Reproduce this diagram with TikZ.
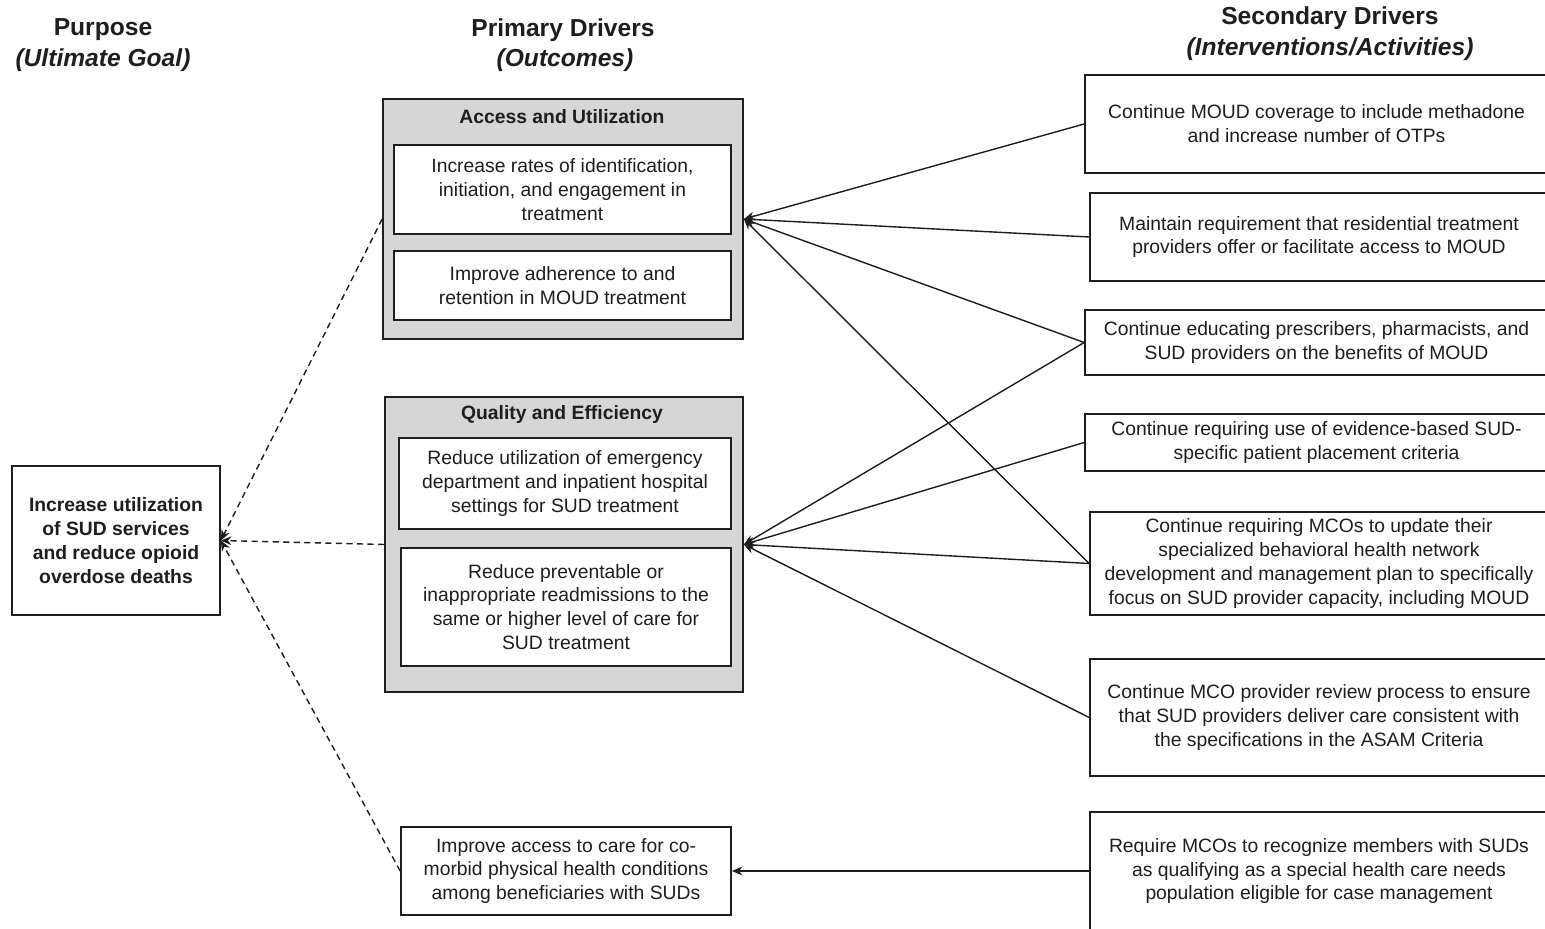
\documentclass[tikz,border=0pt]{standalone}
\usepackage{fontspec}
\setmainfont{Liberation Sans}
\usetikzlibrary{arrows.meta}
\definecolor{boxgray}{RGB}{214,214,214}
\definecolor{ink}{RGB}{30,30,30}
\begin{document}
\begin{tikzpicture}[x=0.02cm,y=-0.02cm,
 every node/.style={font=\fontsize{11}{13.6}\selectfont, text=ink, align=center, inner sep=0pt},
 box/.style={draw=ink, line width=1pt, fill=white},
 outerbox/.style={draw=ink, line width=1pt, fill=boxgray},
 headtitle/.style={font=\fontsize{14}{17}\selectfont\bfseries},
 link/.style={draw=ink, line width=0.8pt, -{Stealth[length=6pt,width=5pt]}},
 dlink/.style={link, dash pattern=on 3.5pt off 2.5pt}]
\useasboundingbox (0,0) rectangle (1545,929);

% column headings
\node[headtitle] (h1a) at (103,30) {Purpose};
\node[headtitle] (h1b) at (103,60) {\itshape (Ultimate Goal)};
\node[headtitle] (h2a) at (563,30) {Primary Drivers};
\node[headtitle] (h2b) at (565,60) {\itshape (Outcomes)};
\node[headtitle] (h3a) at (1330,18) {Secondary Drivers};
\node[headtitle] (h3b) at (1330,49) {\itshape (Interventions/Activities)};

% purpose
\node[box, minimum width=4.16cm, minimum height=2.98cm, font=\fontsize{11}{13.6}\selectfont\bfseries] (goal) at (116,540.5)
 {Increase utilization\\of SUD services\\and reduce opioid\\overdose deaths};

% primary drivers
\node[outerbox, minimum width=7.2cm, minimum height=4.8cm] (acc) at (563,219) {};
\node[font=\fontsize{11}{13.6}\selectfont\bfseries] (acct) at (562,117) {Access and Utilization};
\node[box, minimum width=6.74cm, minimum height=1.78cm] (a1) at (562.5,189.5)
 {Increase rates of identification,\\initiation, and engagement in\\treatment};
\node[box, minimum width=6.74cm, minimum height=1.38cm] (a2) at (562.5,285.5)
 {Improve adherence to and\\retention in MOUD treatment};

\node[outerbox, minimum width=7.16cm, minimum height=5.9cm] (qual) at (564,544.5) {};
\node[font=\fontsize{11}{13.6}\selectfont\bfseries] (qualt) at (562,415) {Quality and Efficiency};
\node[box, minimum width=6.64cm, minimum height=1.82cm] (q1) at (565,483.5)
 {Reduce utilization of emergency\\department and inpatient hospital\\settings for SUD treatment};
\node[box, minimum width=6.6cm, minimum height=2.36cm] (q2) at (566,607)
 {Reduce preventable or\\inappropriate readmissions to the\\same or higher level of care for\\SUD treatment};

\node[box, minimum width=6.6cm, minimum height=1.76cm] (p3) at (566,871)
 {Improve access to care for co-\\morbid physical health conditions\\among beneficiaries with SUDs};

% secondary drivers
\node[box, minimum width=9.26cm, minimum height=1.96cm] (s1) at (1316.5,124)
 {Continue MOUD coverage to include methadone\\and increase number of OTPs};
\node[box, minimum width=9.16cm, minimum height=1.76cm] (s2) at (1319,237)
 {Maintain requirement that residential treatment\\providers offer or facilitate access to MOUD};
\node[box, minimum width=9.26cm, minimum height=1.3cm] (s3) at (1316.5,342.5)
 {Continue educating prescribers, pharmacists, and\\SUD providers on the benefits of MOUD};
\node[box, minimum width=9.26cm, minimum height=1.14cm] (s4) at (1316.5,442.5)
 {Continue requiring use of evidence-based SUD-\\specific patient placement criteria};
\node[box, minimum width=9.16cm, minimum height=2.06cm] (s5) at (1319,563.5)
 {Continue requiring MCOs to update their\\specialized behavioral health network\\development and management plan to specifically\\focus on SUD provider capacity, including MOUD};
\node[box, minimum width=9.16cm, minimum height=2.34cm] (s6) at (1319,717.5)
 {Continue MCO provider review process to ensure\\that SUD providers deliver care consistent with\\the specifications in the ASAM Criteria};
\node[box, minimum width=9.16cm, minimum height=2.36cm] (s7) at (1319,871)
 {Require MCOs to recognize members with SUDs\\as qualifying as a special health care needs\\population eligible for case management};

% connectors: secondary -> primary
\draw[link] (s1.west) -- (acc.east);
\draw[link] (s2.west) -- (acc.east);
\draw[link] (s3.west) -- (acc.east);
\draw[link] (s5.west) -- (acc.east);
\draw[link] (s3.west) -- (qual.east);
\draw[link] (s4.west) -- (qual.east);
\draw[link] (s5.west) -- (qual.east);
\draw[link] (s6.west) -- (qual.east);
\draw[link] (s7.west) -- (p3.east);

% connectors: primary -> purpose
\draw[dlink] (acc.west) -- (goal.east);
\draw[dlink] (qual.west) -- (goal.east);
\draw[dlink] (p3.west) -- (goal.east);
\end{tikzpicture}
\end{document}
